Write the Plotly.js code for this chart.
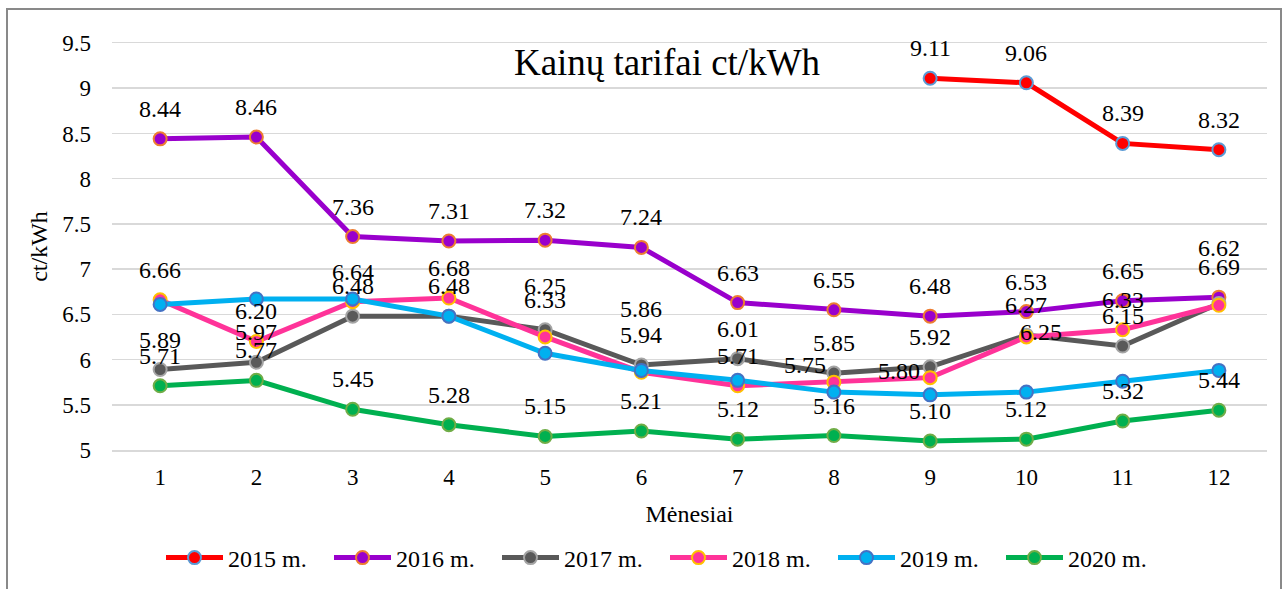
<!DOCTYPE html>
<html>
<head>
<meta charset="utf-8">
<script src="https://cdn.plot.ly/plotly-3.0.1.min.js"></script>
<style>
  html, body { margin: 0; padding: 0; background: #fff; }
  #chart { width: 1286px; height: 589px; }
</style>
</head>
<body>
<div id="chart"></div>
<script>
// ---- data ----
const months = ["1","2","3","4","5","6","7","8","9","10","11","12"];
const seriesNames = ["2015 m.", "2016 m.", "2017 m.", "2018 m.", "2019 m.", "2020 m."];
const y2015 = [null, null, null, null, null, null, null, null, 9.11, 9.06, 8.39, 8.32];
const y2016 = [8.44, 8.46, 7.36, 7.31, 7.32, 7.24, 6.63, 6.55, 6.48, 6.53, 6.65, 6.69];
const y2017 = [5.89, 5.97, 6.48, 6.48, 6.33, 5.94, 6.01, 5.85, 5.92, 6.27, 6.15, 6.62];
const y2018 = [6.66, 6.20, 6.64, 6.68, 6.25, 5.86, 5.71, 5.75, 5.80, 6.25, 6.33, 6.60];
const y2019 = [6.61, 6.67, 6.67, 6.48, 6.07, 5.88, 5.77, 5.64, 5.61, 5.64, 5.76, 5.88];
const y2020 = [5.71, 5.77, 5.45, 5.28, 5.15, 5.21, 5.12, 5.16, 5.10, 5.12, 5.32, 5.44];
const chartTitle = "Kainų tarifai ct/kWh";
const xTitle = "Mėnesiai";
const yTitle = "ct/kWh";

// ---- styles ----
const allY = [y2015, y2016, y2017, y2018, y2019, y2020];
const lineColors = ["#FF0000", "#9900CC", "#595959", "#FF3399", "#00B0F0", "#00B050"];
const edgeColors = ["#5B9BD5", "#ED7D31", "#A5A5A5", "#FFC000", "#4472C4", "#70AD47"];
const showLabels = [true, true, true, true, false, true];
// label placement tweaks (series index -> point index -> [xshift, yshift])
const labelTweaks = {
  2: { 11: [0, 55] },
  3: { 4: [0, 51], 5: [0, 63], 7: [-29, 17], 8: [-31, 7], 9: [15, 5], 11: null }
};

const FONT = '"Liberation Serif", "Times New Roman", serif';

const traces = allY.map((ys, i) => ({
  type: "scatter",
  mode: "lines+markers",
  name: seriesNames[i],
  x: months,
  y: ys,
  line: { color: lineColors[i], width: 5 },
  marker: { size: 13, color: lineColors[i], line: { color: edgeColors[i], width: 2 } },
  connectgaps: false,
  hoverinfo: "x+y+name"
}));

const annotations = [];
allY.forEach((ys, i) => {
  if (!showLabels[i]) return;
  ys.forEach((v, j) => {
    if (v === null) return;
    let shift = [0, 30];
    if (labelTweaks[i] && j in labelTweaks[i]) {
      if (labelTweaks[i][j] === null) return;
      shift = labelTweaks[i][j];
    }
    annotations.push({
      x: j, y: v, xref: "x", yref: "y",
      text: v.toFixed(2), showarrow: false,
      xshift: shift[0], yshift: shift[1],
      xanchor: "center", yanchor: "middle",
      font: { family: FONT, size: 24, color: "#000" }
    });
  });
});

const layout = {
  width: 1286, height: 589,
  margin: { l: 112, r: 19, t: 43, b: 139, autoexpand: false },
  paper_bgcolor: "#fff", plot_bgcolor: "#fff",
  font: { family: FONT, color: "#000", size: 23 },
  title: {
    text: chartTitle,
    font: { family: FONT, size: 37, color: "#000" },
    x: 667 / 1286, xref: "container", xanchor: "center",
    y: 1 - 62 / 589, yref: "container", yanchor: "middle"
  },
  xaxis: {
    type: "category",
    range: [-0.5, 11.5], autorange: false,
    showgrid: false,
    showline: true, mirror: true, linecolor: "#D9D9D9", linewidth: 1.5,
    ticks: "", ticklabelstandoff: 6,
    tickfont: { family: FONT, size: 23, color: "#000" },
    title: { text: xTitle, font: { family: FONT, size: 24, color: "#000" }, standoff: 16 },
    fixedrange: true
  },
  yaxis: {
    range: [5, 9.5], autorange: false, dtick: 0.5, tick0: 5,
    showgrid: true, gridcolor: "#D9D9D9", gridwidth: 1.5,
    zeroline: false, showline: false,
    ticks: "", ticklabelstandoff: 20,
    tickfont: { family: FONT, size: 23, color: "#000" },
    title: { text: yTitle, font: { family: FONT, size: 24, color: "#000" }, standoff: 7 },
    fixedrange: true
  },
  showlegend: true,
  legend: {
    orientation: "h",
    x: (665 - 112) / 1155, xanchor: "center",
    y: (450 - 558) / 407, yanchor: "middle",
    itemwidth: 57,
    entrywidth: 96, entrywidthmode: "pixels",
    font: { family: FONT, size: 24, color: "#000" },
    bgcolor: "rgba(0,0,0,0)"
  },
  annotations: annotations,
  shapes: [{
    type: "rect", xref: "paper", yref: "paper",
    x0: (7 - 112) / 1155, x1: (1281 - 112) / 1155,
    y0: (450 - 600) / 407, y1: (450 - 9) / 407,
    line: { color: "#898989", width: 2 }, fillcolor: "rgba(0,0,0,0)", layer: "below"
  }]
};

Plotly.newPlot("chart", traces, layout, { displayModeBar: false, staticPlot: true });
</script>
</body>
</html>
